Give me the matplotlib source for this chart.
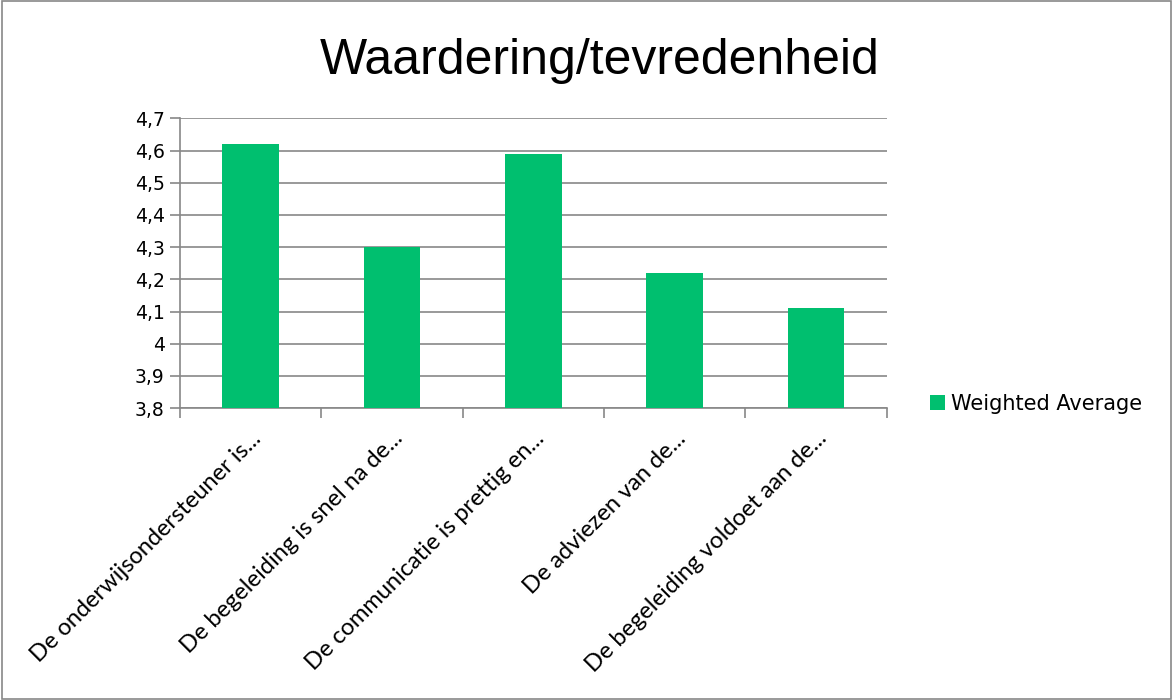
import matplotlib.pyplot as plt
from matplotlib.ticker import FuncFormatter, FixedLocator
from matplotlib.patches import Rectangle

categorieen = ['De onderwijsondersteuner is...',
               'De begeleiding is snel na de...',
               'De communicatie is prettig en...',
               'De adviezen van de...',
               'De begeleiding voldoet aan de...']
gemiddelde = [4.62, 4.30, 4.59, 4.22, 4.11]
y_ticks = [3.8, 3.9, 4.0, 4.1, 4.2, 4.3, 4.4, 4.5, 4.6, 4.7]

plt.rcParams['font.family'] = ['DejaVu Sans']

fig = plt.figure(figsize=(11.73, 7), dpi=100)
fig.patches.append(Rectangle((0.002, 0.002), 0.996, 0.996, transform=fig.transFigure,
                             fill=False, edgecolor='#888888', linewidth=1.2))

ax = fig.add_axes([0.1535, 0.417, 0.6025, 0.414])
x = list(range(len(categorieen)))
ax.bar(x, gemiddelde, width=0.4, color='#00BF6F', label='Weighted Average', zorder=3)

ax.set_ylim(3.8, 4.7)
ax.set_xlim(-0.5, len(categorieen) - 0.5)
ax.set_yticks(y_ticks)
ax.yaxis.set_major_formatter(FuncFormatter(lambda v, p: ('%g' % round(v, 1)).replace('.', ',')))
ax.yaxis.grid(True, color='#888888', linewidth=1.2, zorder=0)

ax.set_xticks(x)
ax.set_xticklabels(categorieen, rotation=45, ha='right', rotation_mode='anchor',
                   fontsize=17, family='Lato')
ax.tick_params(axis='x', length=0, pad=14)
ax.xaxis.set_minor_locator(FixedLocator([i - 0.5 for i in range(len(categorieen) + 1)]))
ax.tick_params(axis='x', which='minor', length=7, color='#888888', width=1.2)
ax.tick_params(axis='y', length=7, color='#888888', width=1.2, labelsize=13.5, pad=4)

for s in ['top', 'right']:
    ax.spines[s].set_visible(False)
for s in ['left', 'bottom']:
    ax.spines[s].set_color('#888888')
    ax.spines[s].set_linewidth(1.2)

# titel
fig.text(0.511, 0.913, 'Waardering/tevredenheid', ha='center', va='center',
         fontsize=36, family='Liberation Sans')

ax.legend(loc='center left', bbox_to_anchor=(1.035, 0.015), frameon=False, fontsize=15,
          handlelength=0.7, handleheight=0.7, handletextpad=0.3)

fig.savefig('out.png', dpi=100)
